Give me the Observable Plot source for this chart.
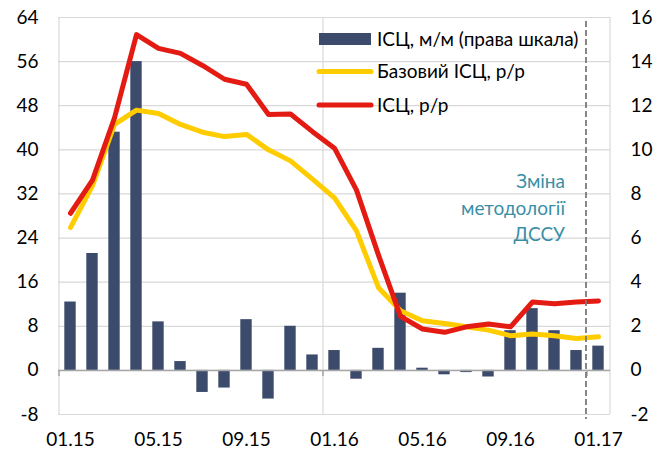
<!DOCTYPE html>
<html>
<head>
<meta charset="utf-8">
<script src="https://cdn.jsdelivr.net/npm/d3@7"></script>
<script src="https://cdn.jsdelivr.net/npm/@observablehq/plot@0.6"></script>
<style>
  html, body { margin: 0; padding: 0; background: #fff; }
  #chart { width: 664px; height: 452px; overflow: hidden; }
</style>
</head>
<body>
<div id="chart"></div>
<script>
const months = ["01.15","02.15","03.15","04.15","05.15","06.15","07.15","08.15","09.15","10.15","11.15","12.15",
                "01.16","02.16","03.16","04.16","05.16","06.16","07.16","08.16","09.16","10.16","11.16","12.16","01.17"];
// ІСЦ, м/м (права шкала)
const cpiMoM = [3.1,5.3,10.8,14.0,2.2,0.4,-1.0,-0.8,2.3,-1.3,2.0,0.7,0.9,-0.4,1.0,3.5,0.1,-0.2,-0.1,-0.3,1.8,2.8,1.8,0.9,1.1];
// Базовий ІСЦ, р/р
const coreYoY = [25.9,33.5,44.6,47.2,46.6,44.6,43.2,42.4,42.8,40.0,38.0,34.7,31.3,25.3,15.0,10.8,9.0,8.5,7.9,7.3,6.3,6.6,6.3,5.8,6.1];
// ІСЦ, р/р
const cpiYoY = [28.5,34.5,45.8,60.9,58.4,57.5,55.3,52.8,51.9,46.4,46.5,43.3,40.3,32.7,20.9,9.8,7.5,6.9,7.9,8.4,7.9,12.4,12.1,12.4,12.6];

const leftTicks = [-8,0,8,16,24,32,40,48,56,64];
const rightTicks = [-2,0,2,4,6,8,10,12,14,16];
const xTickLabels = ["01.15","05.15","09.15","01.16","05.16","09.16","01.17"];
const legendLabels = ["ІСЦ, м/м (права шкала)", "Базовий ІСЦ, р/р", "ІСЦ, р/р"];
const noteLines = ["Зміна", "методології", "ДССУ"];

(function () {
const ratio = 4; // left scale / right scale
const C_BAR = "#3C4A6B", C_CORE = "#FFCC00", C_CPI = "#E31B13", C_NOTE = "#3A8FA6";

const data = months.map((m, i) => ({m, mom: cpiMoM[i], core: coreYoY[i], cpi: cpiYoY[i]}));

const plot = Plot.plot({
  width: 664, height: 452,
  marginLeft: 58, marginRight: 54, marginTop: 17, marginBottom: 38,
  style: {fontFamily: "Lato, 'Open Sans', sans-serif", fontSize: "19px", color: "#000", background: "#fff", overflow: "visible"},
  x: {type: "band", domain: months, padding: 0, axis: null, label: null},
  y: {domain: [-8, 64], axis: null, label: null},
  marks: [
    Plot.gridY(leftTicks, {stroke: "#d9d9d9", strokeOpacity: 1, strokeWidth: 1.2}),
    Plot.barY(data, {x: "m", y: d => d.mom * ratio, fill: C_BAR, insetLeft: 5.3, insetRight: 5.3}),
    Plot.ruleY([0], {stroke: "#a6a6a6", strokeWidth: 1.5}),
    Plot.lineY(data, {x: "m", y: "core", stroke: C_CORE, strokeWidth: 5, strokeLinejoin: "round", strokeLinecap: "round"}),
    Plot.lineY(data, {x: "m", y: "cpi", stroke: C_CPI, strokeWidth: 5, strokeLinejoin: "round", strokeLinecap: "round"}),
    Plot.axisY(leftTicks, {anchor: "left", tickSize: 0, tickPadding: 20, tickFormat: d => String(d), fontSize: 19, label: null}),
    Plot.axisY(rightTicks.map(v => v * ratio), {anchor: "right", tickSize: 0, tickPadding: 20, tickFormat: d => String(d / ratio), fontSize: 19, label: null}),
    Plot.axisX(xTickLabels, {anchor: "bottom", tickSize: 0, tickPadding: 18, fontSize: 19, label: null})
  ]
});

document.getElementById("chart").appendChild(plot);

const xs = plot.scale("x"), ys = plot.scale("y");
const svg = d3.select(plot);
const xRight = xs.range[1];
const yTop = ys.apply(64), yBottom = ys.apply(-8), zeroY = ys.apply(0);

// vertical gridlines (every 12 months + right border), placed under the bars
const gNode = document.createElementNS("http://www.w3.org/2000/svg", "g");
const barsGroup = plot.querySelector("g[aria-label='bar']");
plot.insertBefore(gNode, barsGroup);
const g = d3.select(gNode);
[xs.apply(months[0]), xs.apply(months[12]), xRight].forEach(x => {
  g.append("line").attr("x1", x).attr("x2", x).attr("y1", yTop).attr("y2", yBottom)
    .attr("stroke", "#d9d9d9").attr("stroke-width", 1.2);
});

const ov = svg.append("g");
// tick marks on zero line
[xs.apply(months[0]), xs.apply(months[12]), xs.apply(months[24])].forEach(x => {
  ov.append("line").attr("x1", x).attr("x2", x).attr("y1", zeroY).attr("y2", zeroY + 6)
    .attr("stroke", "#a6a6a6").attr("stroke-width", 1.5);
});
// methodology change dashed line
const xd = xs.apply(months[24]) - 1;
ov.append("line").attr("x1", xd).attr("x2", xd).attr("y1", yTop + 4).attr("y2", yBottom + 5)
  .attr("stroke", "#7a7a7a").attr("stroke-width", 1.8).attr("stroke-dasharray", "6,3");

// annotation
noteLines.forEach((t, i) => {
  ov.append("text").attr("x", 565).attr("y", 188 + i * 26.5).attr("text-anchor", "end")
    .attr("fill", C_NOTE).attr("font-size", 19).attr("font-family", "Lato, sans-serif").text(t);
});

// legend
const lg = svg.append("g").attr("font-family", "Lato, sans-serif").attr("font-size", 19)
  .attr("fill", "#000").attr("text-anchor", "start");
lg.append("rect").attr("x", 319).attr("y", 33).attr("width", 52).attr("height", 12).attr("fill", C_BAR);
lg.append("line").attr("x1", 319).attr("x2", 371).attr("y1", 71.5).attr("y2", 71.5)
  .attr("stroke", C_CORE).attr("stroke-width", 5).attr("stroke-linecap", "round");
lg.append("line").attr("x1", 319).attr("x2", 371).attr("y1", 105).attr("y2", 105)
  .attr("stroke", C_CPI).attr("stroke-width", 5).attr("stroke-linecap", "round");
[39, 71.5, 105].forEach((cy, i) => {
  lg.append("text").attr("x", 377).attr("y", cy).attr("dy", "0.35em").attr("text-anchor", "start").text(legendLabels[i]);
});
})();
</script>
</body>
</html>
